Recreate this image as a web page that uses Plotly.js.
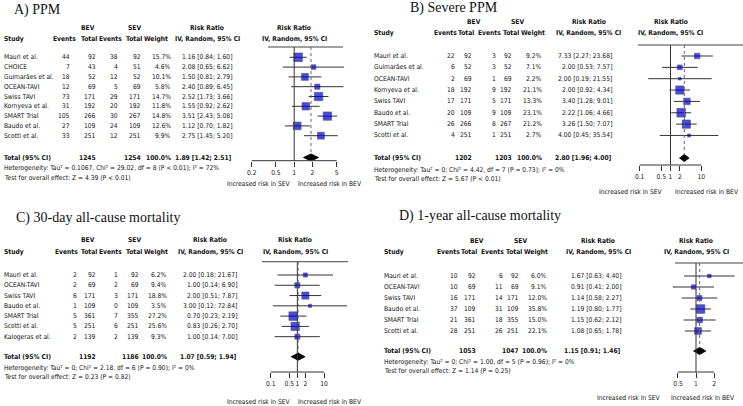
<!DOCTYPE html>
<html><head><meta charset="utf-8">
<script src="https://cdn.plot.ly/plotly-3.0.1.min.js"></script>
<style>html,body{margin:0;padding:0;background:#fff}#chart{width:743px;height:406px}</style>
</head><body><div id="chart"></div>
<script>
// ================= DATA =================
// Panel A: PPM
const titleA = 'A) PPM';
const studiesA = ['Mauri et al.','CHOICE','Guimarães et al.','OCEAN-TAVI','Swiss TAVI','Kornyeva et al.','SMART Trial','Baudo et al.','Scotti et al.'];
const bevEventsA = [44,7,18,12,73,31,105,27,33];
const bevTotalA  = [92,43,52,69,171,192,266,109,251];
const sevEventsA = [38,4,12,5,29,20,30,24,12];
const sevTotalA  = [92,51,52,69,171,192,267,109,251];
const weightA = [15.7,4.6,10.1,5.8,14.7,11.8,14.8,12.6,9.9];
const rrA    = [1.16,2.08,1.50,2.40,2.52,1.55,3.51,1.12,2.75];
const lowerA = [0.84,0.65,0.81,0.89,1.73,0.92,2.43,0.70,1.45];
const upperA = [1.60,6.62,2.79,6.45,3.66,2.62,5.08,1.82,5.20];
const pooledA = [1.89,1.42,2.51];
const totalsA = [1245,1254];
const hetA  = 'Heterogeneity: Tau² = 0.1067, Chi² = 29.02, df = 8 (P &lt; 0.01); I² = 72%';
const testA = 'Test for overall effect: Z = 4.39 (P &lt; 0.01)';
const ticksA = [0.2,0.5,1,2,5];
const tickLabelsA = ['0.2','0.5','1','2','5'];

// Panel B: Severe PPM
const titleB = 'B) Severe PPM';
const studiesB = ['Mauri et al.','Guimarães et al.','OCEAN-TAVI','Kornyeva et al.','Swiss TAVI','Baudo et al.','SMART Trial','Scotti et al.'];
const bevEventsB = [22,6,2,18,17,20,26,4];
const bevTotalB  = [92,52,69,192,171,109,266,251];
const sevEventsB = [3,3,1,9,5,9,8,1];
const sevTotalB  = [92,52,69,192,171,109,267,251];
const weightB = [9.2,7.1,2.2,21.1,13.3,23.1,21.2,2.7];
const rrB    = [7.33,2.00,2.00,2.00,3.40,2.22,3.26,4.00];
const lowerB = [2.27,0.53,0.19,0.92,1.28,1.06,1.50,0.45];
const upperB = [23.68,7.57,21.55,4.34,9.01,4.66,7.07,35.54];
const pooledB = [2.80,1.96,4.00];
const totalsB = [1202,1203];
const hetB  = 'Heterogeneity: Tau² = 0; Chi² = 4.42, df = 7 (P = 0.73); I² = 0%';
const testB = 'Test for overall effect: Z = 5.67 (P &lt; 0.01)';
const ticksB = [0.1,0.5,1,2,10];
const tickLabelsB = ['0.1','0.5','1','2','10'];

// Panel C: 30-day all-cause mortality
const titleC = 'C) 30-day all-cause mortality';
const studiesC = ['Mauri et al.','OCEAN-TAVI','Swiss TAVI','Baudo et al.','SMART Trial','Scotti et al.','Kalogeras et al.'];
const bevEventsC = [2,2,6,1,5,5,2];
const bevTotalC  = [92,69,171,109,361,251,139];
const sevEventsC = [1,2,3,0,7,6,2];
const sevTotalC  = [92,69,171,109,355,251,139];
const weightC = [6.2,9.4,18.8,3.5,27.2,25.6,9.3];
const rrC    = [2.00,1.00,2.00,3.00,0.70,0.83,1.00];
const lowerC = [0.18,0.14,0.51,0.12,0.23,0.26,0.14];
const upperC = [21.67,6.90,7.87,72.84,2.19,2.70,7.00];
const pooledC = [1.07,0.59,1.94];
const totalsC = [1192,1186];
const hetC  = 'Heterogeneity: Tau² = 0; Chi² = 2.18, df = 6 (P = 0.90); I² = 0%';
const testC = 'Test for overall effect: Z = 0.23 (P = 0.82)';
const ticksC = [0.1,0.5,1,2,10];
const tickLabelsC = ['0.1','0.5','1','2','10'];

// Panel D: 1-year all-cause mortality
const titleD = 'D) 1-year all-cause mortality';
const studiesD = ['Mauri et al.','OCEAN-TAVI','Swiss TAVI','Baudo et al.','SMART Trial','Scotti et al.'];
const bevEventsD = [10,10,16,37,21,28];
const bevTotalD  = [92,69,171,109,361,251];
const sevEventsD = [6,11,14,31,18,26];
const sevTotalD  = [92,69,171,109,355,251];
const weightD = [6.0,9.1,12.0,35.8,15.0,22.1];
const rrD    = [1.67,0.91,1.14,1.19,1.15,1.08];
const lowerD = [0.63,0.41,0.58,0.80,0.62,0.65];
const upperD = [4.40,2.00,2.27,1.77,2.12,1.78];
const pooledD = [1.15,0.91,1.46];
const totalsD = [1053,1047];
const hetD  = 'Heterogeneity: Tau² = 0; Chi² = 1.00, df = 5 (P = 0.96); I² = 0%';
const testD = 'Test for overall effect: Z = 1.14 (P = 0.25)';
const ticksD = [0.5,1,2];
const tickLabelsD = ['0.5','1','2'];

const colHeaders = ['Events','Total','Events','Total','Weight'];

// ================= LAYOUT GEOMETRY (pixels) =================
const W = 743, H = 406;
const geo = {
  A:{titleX:13,titleY:10,grpY:28,hdrY:39,lineY:47,lineX:[268,343],row0:57.3,dy:9.8,totY:157.5,hetY:168,testY:177.5,
     studyX:3,colR:[71,97,119,142,172,233],hdrC:[64,89,110,134,156],bevC:88,sevC:134,effC:207,forC:294,
     x1:294.2,ppd:60.8,dom:[238,352],axisY:160.7,lblY:184,sevR:292,bevL:297},
  B:{titleX:409,titleY:8,grpY:21.7,hdrY:33.3,lineY:45,lineX:[638,743],row0:56,dy:11.35,totY:158,hetY:170,testY:179.3,
     studyX:373,colR:[456,473,497,513,543,613],hdrC:[445.7,466,489,510.5,532.5],bevC:473.5,sevC:517.5,effC:588.5,forC:670.5,
     x1:670.5,ppd:30.85,dom:[630,743],axisY:165,lblY:192,sevR:664,bevL:674},
  C:{titleX:15,titleY:217.5,grpY:240,hdrY:252.3,lineY:261.7,lineX:[262,348],row0:275,dy:10.28,totY:356.7,hetY:367.7,testY:376.5,
     studyX:3,colR:[78,97,119,140,168,238],hdrC:[66.5,89,110.5,134,156],bevC:88,sevC:134,effC:210,forC:295,
     x1:297.35,ppd:26.65,dom:[258,352],axisY:372,lblY:402,sevR:292,bevL:297},
  D:{titleX:398,titleY:216,grpY:241,hdrY:252,lineY:263,lineX:[675,743],row0:276,dy:11,totY:351,hetY:362,testY:371,
     studyX:383,colR:[459,477,504,520,548,622],hdrC:[448,469,492,514,536],bevC:477,sevC:520,effC:598,forC:696,
     x1:696,ppd:60,dom:[660,743],axisY:372,lblY:398,sevR:662,bevL:670}
};

// ================= FONT =================
function pickFont(){
  const c=document.createElement('canvas').getContext('2d');
  const t='Increased risk in SEV 0123456789';
  const cands=['Liberation Sans Narrow','Arial Narrow','DejaVu Sans Condensed','Nimbus Sans Narrow','Roboto Condensed'];
  for(const f of cands){
    let ok=true;
    for(const fb of ['monospace','serif']){
      c.font='40px '+fb; const a=c.measureText(t).width;
      c.font='40px "'+f+'", '+fb; const b=c.measureText(t).width;
      if(Math.abs(a-b)<0.5){ok=false;break;}
    }
    if(ok) return f;
  }
  return 'Liberation Sans';
}
const FONTNAME = pickFont();
const FONT = '"'+FONTNAME+'", "Liberation Sans", Arial, sans-serif';
const S = (function(){
  const c=document.createElement('canvas').getContext('2d');
  c.font='100px '+FONT;
  const w=c.measureText('Test for overall effect: Z = 4.39 (P < 0.01)').width;
  return Math.min(10, 126*100/w);
})();
const SERIF = '"Liberation Serif", "DejaVu Serif", serif';
const TXT = '#111';

// ================= BUILD =================
const panels = [
  {k:'A',title:titleA,studies:studiesA,be:bevEventsA,bt:bevTotalA,se:sevEventsA,st:sevTotalA,w:weightA,rr:rrA,lo:lowerA,hi:upperA,pooled:pooledA,totals:totalsA,het:hetA,test:testA,ticks:ticksA,tl:tickLabelsA},
  {k:'B',title:titleB,studies:studiesB,be:bevEventsB,bt:bevTotalB,se:sevEventsB,st:sevTotalB,w:weightB,rr:rrB,lo:lowerB,hi:upperB,pooled:pooledB,totals:totalsB,het:hetB,test:testB,ticks:ticksB,tl:tickLabelsB},
  {k:'C',title:titleC,studies:studiesC,be:bevEventsC,bt:bevTotalC,se:sevEventsC,st:sevTotalC,w:weightC,rr:rrC,lo:lowerC,hi:upperC,pooled:pooledC,totals:totalsC,het:hetC,test:testC,ticks:ticksC,tl:tickLabelsC},
  {k:'D',title:titleD,studies:studiesD,be:bevEventsD,bt:bevTotalD,se:sevEventsD,st:sevTotalD,w:weightD,rr:rrD,lo:lowerD,hi:upperD,pooled:pooledD,totals:totalsD,het:hetD,test:testD,ticks:ticksD,tl:tickLabelsD}
];

const px = x => x/W, py = y => 1 - y/H;
const fmt2 = v => v.toFixed(2);
const effStr = (r,l,h) => fmt2(r)+' ['+fmt2(l)+'; '+fmt2(h)+']';

const data = [], annotations = [], shapes = [];
const layout = {width:W,height:H,margin:{l:0,r:0,t:0,b:0},paper_bgcolor:'#fff',plot_bgcolor:'rgba(0,0,0,0)',showlegend:false,
  font:{family:FONT,size:S,color:TXT}};

function ann(text,x,y,yref,xanchor,opt){
  annotations.push(Object.assign({text:text,x:px(x),xref:'paper',y:y,yref:yref,xanchor:xanchor,yanchor:'middle',showarrow:false,
    font:{family:FONT,size:S,color:TXT},borderpad:0}, opt||{}));
}

panels.forEach((p,i)=>{
  const g = geo[p.k];
  const sfx = i===0 ? '' : String(i+1);
  const xr = 'x'+sfx, yr = 'y'+sfx;
  const kRow = yy => (yy - g.row0)/g.dy;
  // axes
  layout['xaxis'+sfx] = {type:'log',domain:[px(g.dom[0]),px(g.dom[1])],
    range:[(g.dom[0]-g.x1)/g.ppd,(g.dom[1]-g.x1)/g.ppd],anchor:yr,
    tickvals:p.ticks,ticktext:p.tl,ticks:'outside',ticklen:5,tickwidth:1,tickcolor:'#333',tickangle:0,
    showline:false,showgrid:false,zeroline:false,fixedrange:true,
    tickfont:{family:FONT,size:S,color:TXT}};
  layout['yaxis'+sfx] = {domain:[py(g.axisY),py(g.lineY)],range:[kRow(g.axisY),kRow(g.lineY)],
    anchor:xr,visible:false,fixedrange:true};

  // study squares + CIs
  const maxW = Math.max(...p.w);
  data.push({type:'scatter',mode:'markers',xaxis:xr,yaxis:yr,x:p.rr,y:p.studies.map((s,j)=>j),
    marker:{symbol:'square',color:'#0000c8',size:p.w.map(w=>Math.max(2.2,8.6*Math.sqrt(w/maxW))),line:{width:0.6,color:'#00006e'}},
    error_x:{type:'data',symmetric:false,array:p.hi.map((h,j)=>h-p.rr[j]),arrayminus:p.lo.map((l,j)=>p.rr[j]-l),
      width:0,thickness:1,color:'#333'},hoverinfo:'skip'});
  // pooled diamond
  const ty = kRow(g.totY), hh = 3.6/g.dy;
  data.push({type:'scatter',mode:'lines',xaxis:xr,yaxis:yr,fill:'toself',fillcolor:'#000',line:{color:'#000',width:0.8},
    x:[p.pooled[1],p.pooled[0],p.pooled[2],p.pooled[0],p.pooled[1]],
    y:[ty,ty-hh,ty,ty+hh,ty],hoverinfo:'skip'});

  // shapes
  shapes.push({type:'line',xref:'paper',yref:'paper',x0:px(g.lineX[0]),x1:px(g.lineX[1]),y0:py(g.lineY),y1:py(g.lineY),line:{color:'#444',width:1}});
  shapes.push({type:'line',xref:xr,yref:'paper',x0:1,x1:1,y0:py(g.axisY),y1:py(g.lineY),line:{color:'#333',width:1}});
  shapes.push({type:'line',xref:xr,yref:yr,x0:p.pooled[0],x1:p.pooled[0],y0:kRow(g.lineY),y1:ty-hh,line:{color:'#666',width:1,dash:'dot'}});
  shapes.push({type:'line',xref:xr,yref:'paper',x0:p.ticks[0],x1:p.ticks[p.ticks.length-1],y0:py(g.axisY),y1:py(g.axisY),line:{color:'#333',width:1}});

  // title
  annotations.push({text:p.title,x:px(g.titleX),xref:'paper',y:py(g.titleY),yref:'paper',xanchor:'left',yanchor:'middle',
    showarrow:false,borderpad:0,font:{family:SERIF,size:14,color:'#111'}});

  // headers
  const hdr = (t,x,y,a) => ann(t,x,py(y),'paper',a||'center',{font:{family:FONT,size:S,color:TXT,weight:'bold'}});
  hdr('BEV',g.bevC,g.grpY); hdr('SEV',g.sevC,g.grpY);
  hdr('Risk Ratio',g.effC,g.grpY); hdr('Risk Ratio',g.forC,g.grpY);
  hdr('Study',g.studyX,g.hdrY,'left');
  colHeaders.forEach((t,j)=>hdr(t,g.hdrC[j],g.hdrY));
  hdr('IV, Random, 95% CI',g.effC,g.hdrY); hdr('IV, Random, 95% CI',g.forC,g.hdrY);

  // rows
  p.studies.forEach((s,j)=>{
    ann(s,g.studyX,j,yr,'left');
    ann(String(p.be[j]),g.colR[0],j,yr,'right');
    ann(String(p.bt[j]),g.colR[1],j,yr,'right');
    ann(String(p.se[j]),g.colR[2],j,yr,'right');
    ann(String(p.st[j]),g.colR[3],j,yr,'right');
    ann(p.w[j].toFixed(1)+'%',g.colR[4],j,yr,'right');
    ann(effStr(p.rr[j],p.lo[j],p.hi[j]),g.colR[5],j,yr,'right');
  });
  // total row
  const bf = {font:{family:FONT,size:S,color:TXT,weight:'bold'}};
  ann('Total (95% CI)',g.studyX,ty,yr,'left',bf);
  ann(String(p.totals[0]),g.colR[1],ty,yr,'right',bf);
  ann(String(p.totals[1]),g.colR[3],ty,yr,'right',bf);
  ann('100.0%',g.colR[4],ty,yr,'right',bf);
  ann(effStr(p.pooled[0],p.pooled[1],p.pooled[2]),g.colR[5],ty,yr,'right',bf);
  ann(p.het,g.studyX,py(g.hetY),'paper','left');
  ann(p.test,g.studyX,py(g.testY),'paper','left');
  // direction labels
  ann('Increased risk in SEV',g.sevR,py(g.lblY),'paper','right');
  ann('Increased risk in BEV',g.bevL,py(g.lblY),'paper','left');
});

layout.annotations = annotations;
layout.shapes = shapes;
Plotly.newPlot('chart',data,layout,{staticPlot:true,displayModeBar:false});
</script></body></html>
